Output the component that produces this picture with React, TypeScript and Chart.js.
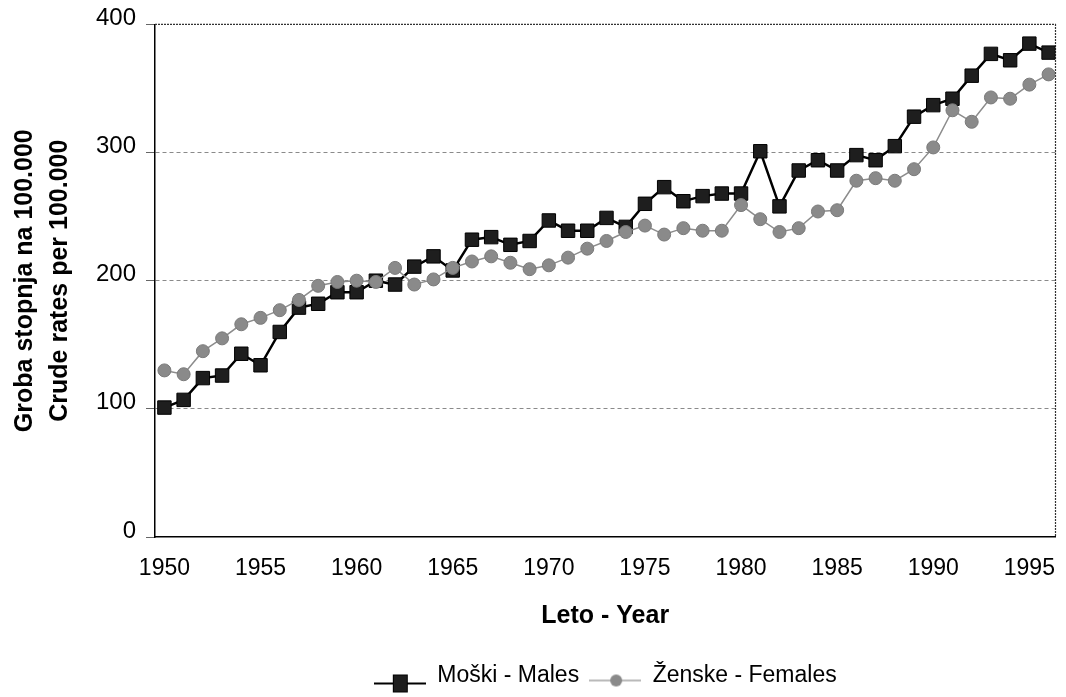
import React, { useEffect, useRef } from "react";
import { Chart, registerables } from "chart.js";

Chart.register(...registerables);

const years = [
  1950, 1951, 1952, 1953, 1954, 1955, 1956, 1957, 1958, 1959,
  1960, 1961, 1962, 1963, 1964, 1965, 1966, 1967, 1968, 1969,
  1970, 1971, 1972, 1973, 1974, 1975, 1976, 1977, 1978, 1979,
  1980, 1981, 1982, 1983, 1984, 1985, 1986, 1987, 1988, 1989,
  1990, 1991, 1992, 1993, 1994, 1995, 1996,
];

const males = [
  101, 107, 124, 126, 143, 134, 160, 179, 182, 191,
  191, 200, 197, 211, 219, 208, 232, 234, 228, 231,
  247, 239, 239, 249, 242, 260, 273, 262, 266, 268,
  268, 301, 258, 286, 294, 286, 298, 294, 305, 328,
  337, 342, 360, 377, 372, 385, 378,
];

const females = [
  130, 127, 145, 155, 166, 171, 177, 185, 196, 199,
  200, 199, 210, 197, 201, 210, 215, 219, 214, 209,
  212, 218, 225, 231, 238, 243, 236, 241, 239, 239,
  259, 248, 238, 241, 254, 255, 278, 280, 278, 287,
  304, 333, 324, 343, 342, 353, 361,
];

const xTickValues = [1950, 1955, 1960, 1965, 1970, 1975, 1980, 1985, 1990, 1995];
const yTickValues = [0, 100, 200, 300, 400];

const seriesLabels = ["Moški - Males", "Ženske - Females"];
const yTitle = ["Groba stopnja na 100.000", "Crude rates per 100.000"];
const xTitle = "Leto - Year";

const FONT = "'Liberation Sans', Arial, Helvetica, sans-serif";

function makeIcon(kind: "square" | "circle"): HTMLCanvasElement {
  const c = document.createElement("canvas");
  c.width = 52;
  c.height = 36;
  const ctx = c.getContext("2d") as CanvasRenderingContext2D;
  if (kind === "square") {
    ctx.strokeStyle = "#000";
    ctx.lineWidth = 2;
    ctx.beginPath();
    ctx.moveTo(0, 26);
    ctx.lineTo(52, 26);
    ctx.stroke();
    ctx.fillStyle = "#1e1e1e";
    ctx.fillRect(19, 17, 15, 18);
    ctx.strokeStyle = "#000";
    ctx.lineWidth = 1;
    ctx.strokeRect(19.5, 17.5, 14, 17);
  } else {
    ctx.strokeStyle = "#777";
    ctx.lineWidth = 1.2;
    ctx.beginPath();
    ctx.moveTo(0, 23);
    ctx.lineTo(52, 23);
    ctx.stroke();
    ctx.fillStyle = "#8a8a8a";
    ctx.beginPath();
    ctx.arc(27, 23, 6, 0, Math.PI * 2);
    ctx.fill();
  }
  return c;
}

const framePlugin = {
  id: "frame",
  beforeDatasetsDraw(chart: any) {
    const { ctx, chartArea: a } = chart;
    ctx.save();
    ctx.strokeStyle = "#333";
    ctx.lineWidth = 1.2;
    ctx.setLineDash([2, 1]);
    ctx.beginPath();
    ctx.moveTo(a.left, a.top);
    ctx.lineTo(a.right, a.top);
    ctx.lineTo(a.right, a.bottom);
    ctx.stroke();
    ctx.restore();
  },
};

export default function App() {
  const ref = useRef<HTMLCanvasElement | null>(null);

  useEffect(() => {
    if (!ref.current) return;
    const iconM = makeIcon("square");
    const iconF = makeIcon("circle");

    const chart = new Chart(ref.current, {
      type: "line",
      data: {
        datasets: [
          {
            label: seriesLabels[0],
            data: years.map((yr, i) => ({ x: yr, y: males[i] })),
            borderColor: "#000",
            borderWidth: 2.5,
            pointStyle: "rect",
            pointRadius: 9.5,
            pointBackgroundColor: "#1e1e1e",
            pointBorderColor: "#000",
            pointBorderWidth: 1,
            tension: 0,
            order: 1,
          },
          {
            label: seriesLabels[1],
            data: years.map((yr, i) => ({ x: yr, y: females[i] })),
            borderColor: "#8c8c8c",
            borderWidth: 1.5,
            pointStyle: "circle",
            pointRadius: 6.5,
            pointBackgroundColor: "#8a8a8a",
            pointBorderColor: "#7a7a7a",
            pointBorderWidth: 1,
            tension: 0,
            order: 0,
          },
        ],
      },
      options: {
        responsive: false,
        animation: false,
        layout: { padding: { left: 0, right: 7, top: 24, bottom: 0 } },
        plugins: {
          tooltip: { enabled: false },
          legend: {
            position: "bottom",
            fullSize: false,
            labels: {
              usePointStyle: true,
              pointStyleWidth: 52,
              padding: 10,
              color: "#000",
              font: { family: FONT, size: 23 },
              generateLabels: () => [
                {
                  text: seriesLabels[0],
                  pointStyle: iconM,
                  fillStyle: "#1e1e1e",
                  strokeStyle: "#000",
                  lineWidth: 0,
                  hidden: false,
                  datasetIndex: 0,
                  fontColor: "#000",
                } as any,
                {
                  text: seriesLabels[1],
                  pointStyle: iconF,
                  fillStyle: "#8a8a8a",
                  strokeStyle: "#777",
                  lineWidth: 0,
                  hidden: false,
                  datasetIndex: 1,
                  fontColor: "#000",
                } as any,
              ],
            },
          },
        },
        scales: {
          x: {
            type: "linear",
            min: 1949.51,
            max: 1996.36,
            afterBuildTicks: (scale: any) => {
              scale.ticks = xTickValues.map((v) => ({ value: v }));
            },
            afterFit: (scale: any) => {
              scale.height = 117;
              scale.paddingRight = 0;
            },
            grid: {
              display: true,
              drawOnChartArea: false,
              drawTicks: true,
              tickLength: 18,
              color: "rgba(0,0,0,0)",
              tickColor: "rgba(0,0,0,0)",
            },
            border: { display: true, color: "#000", width: 1.5 },
            ticks: {
              padding: 0,
              color: "#000",
              font: { family: FONT, size: 23 },
              maxRotation: 0,
              autoSkip: false,
              callback: (v: any) => String(v),
            },
            title: {
              display: true,
              text: xTitle,
              color: "#000",
              font: { family: FONT, size: 25, weight: "bold" },
              padding: { top: 0, bottom: 23 },
            },
          },
          y: {
            min: 0,
            max: 400,
            afterBuildTicks: (scale: any) => {
              scale.ticks = yTickValues.map((v) => ({ value: v }));
            },
            afterFit: (scale: any) => {
              scale.width = 155;
            },
            ticks: {
              padding: 10,
              labelOffset: -6,
              color: "#000",
              font: { family: FONT, size: 24 },
            },
            grid: {
              color: (c: any) =>
                c.tick && (c.tick.value === 0 || c.tick.value === 400)
                  ? "rgba(0,0,0,0)"
                  : "#8a8a8a",
              lineWidth: 1,
              drawTicks: true,
              tickLength: 9,
              tickColor: "#666",
            },
            border: { display: true, color: "#000", width: 1.5, dash: [4, 3] },
            title: {
              display: true,
              text: yTitle,
              color: "#000",
              font: { family: FONT, size: 25, weight: "bold", lineHeight: 1.4 },
              padding: { top: 7.5, bottom: 0 },
            },
          },
        },
      },
      plugins: [framePlugin],
    } as any);

    return () => chart.destroy();
  }, []);

  return (
    <div
      style={{
        position: "fixed",
        left: 0,
        top: 0,
        width: 1066,
        height: 697,
        background: "#fff",
        overflow: "hidden",
      }}
    >
      <canvas ref={ref} width={1066} height={697} style={{ display: "block" }} />
    </div>
  );
}
